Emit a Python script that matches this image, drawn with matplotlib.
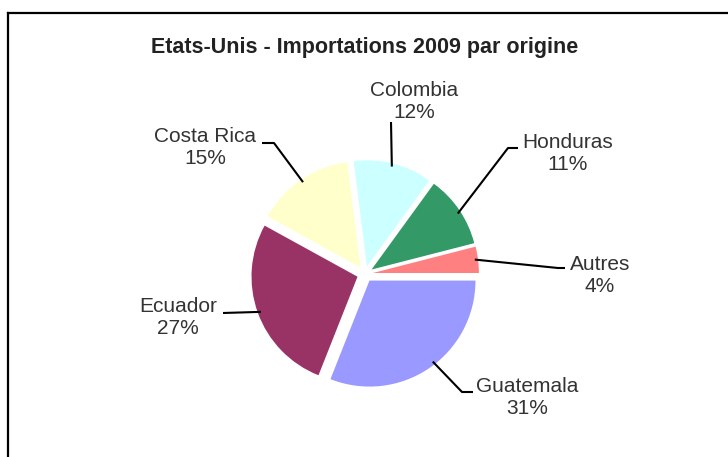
import numpy as np
import matplotlib
matplotlib.use("Agg")
import matplotlib.pyplot as plt
from matplotlib.lines import Line2D

# ---- data ----
categories = ["Guatemala", "Ecuador", "Costa Rica", "Colombia", "Honduras", "Autres"]
shares = [31, 27, 15, 12, 11, 4]
colors = ["#9999FF", "#993366", "#FFFFCC", "#CCFFFF", "#339966", "#FF8080"]
title = "Etats-Unis - Importations 2009 par origine"

W, H = 728, 457
CX, CY, R = 365, 274, 106   # pie centre / radius in pixels

fig = plt.figure(figsize=(W / 100, H / 100), dpi=100)
ax = fig.add_axes([0, 0, 1, 1])


def px(x, y):
    """pixel (from top-left) -> data coordinates"""
    return (x - CX) / R, (CY - y) / R


explode = 0.075
wedges, _ = ax.pie(shares, colors=colors, startangle=0, counterclock=False,
                   explode=[explode] * len(shares), radius=1,
                   wedgeprops=dict(linewidth=0))
ax.set_xlim(-CX / R, (W - CX) / R)
ax.set_ylim(-(H - CY) / R, CY / R)
ax.set_aspect("auto")
ax.axis("off")

label_pos = {
    "Guatemala": (527, 398),
    "Ecuador": (178, 317),
    "Costa Rica": (205, 147),
    "Colombia": (414, 102),
    "Honduras": (568, 154),
    "Autres": (600, 275),
}
leaders = {
    "Guatemala": ([(473, 392), (462, 392)], -52),
    "Ecuador": ([(223, 313)], -160),
    "Costa Rica": ([(262, 143), (274, 143)], 124),
    "Colombia": ([(391, 122)], 76),
    "Honduras": ([(518, 148), (508, 148)], 33),
    "Autres": ([(565, 268), (558, 268)], 7.5),
}

for w, cat, val in zip(wedges, categories, shares):
    tx, ty = px(*label_pos[cat])
    ax.text(tx, ty, f"{cat}\n{val}%", ha="center", va="center",
            fontsize=15, color="#333333", family="Liberation Sans",
            linespacing=1.2)
    pts, ang = leaders[cat]
    cx, cy = w.center
    a = np.deg2rad(ang)
    ex, ey = cx + np.cos(a) * 0.97, cy + np.sin(a) * 0.97
    xs = [px(*p)[0] for p in pts] + [ex]
    ys = [px(*p)[1] for p in pts] + [ey]
    ax.plot(xs, ys, color="black", lw=1.5, solid_capstyle="butt")

fig.text(CX / W, 1 - 48 / H, title, ha="center", va="center",
         fontsize=15.5, fontweight="bold", color="#222222",
         family="Liberation Sans")

# chart frame (left and top edges visible)
fig.add_artist(Line2D([7.5 / W, 7.5 / W], [0, 1 - 13 / H], transform=fig.transFigure,
                      color="black", lw=1.6))
fig.add_artist(Line2D([7.5 / W, 1], [1 - 13 / H, 1 - 13 / H], transform=fig.transFigure,
                      color="black", lw=1.6))

fig.savefig("out.png", dpi=100)
